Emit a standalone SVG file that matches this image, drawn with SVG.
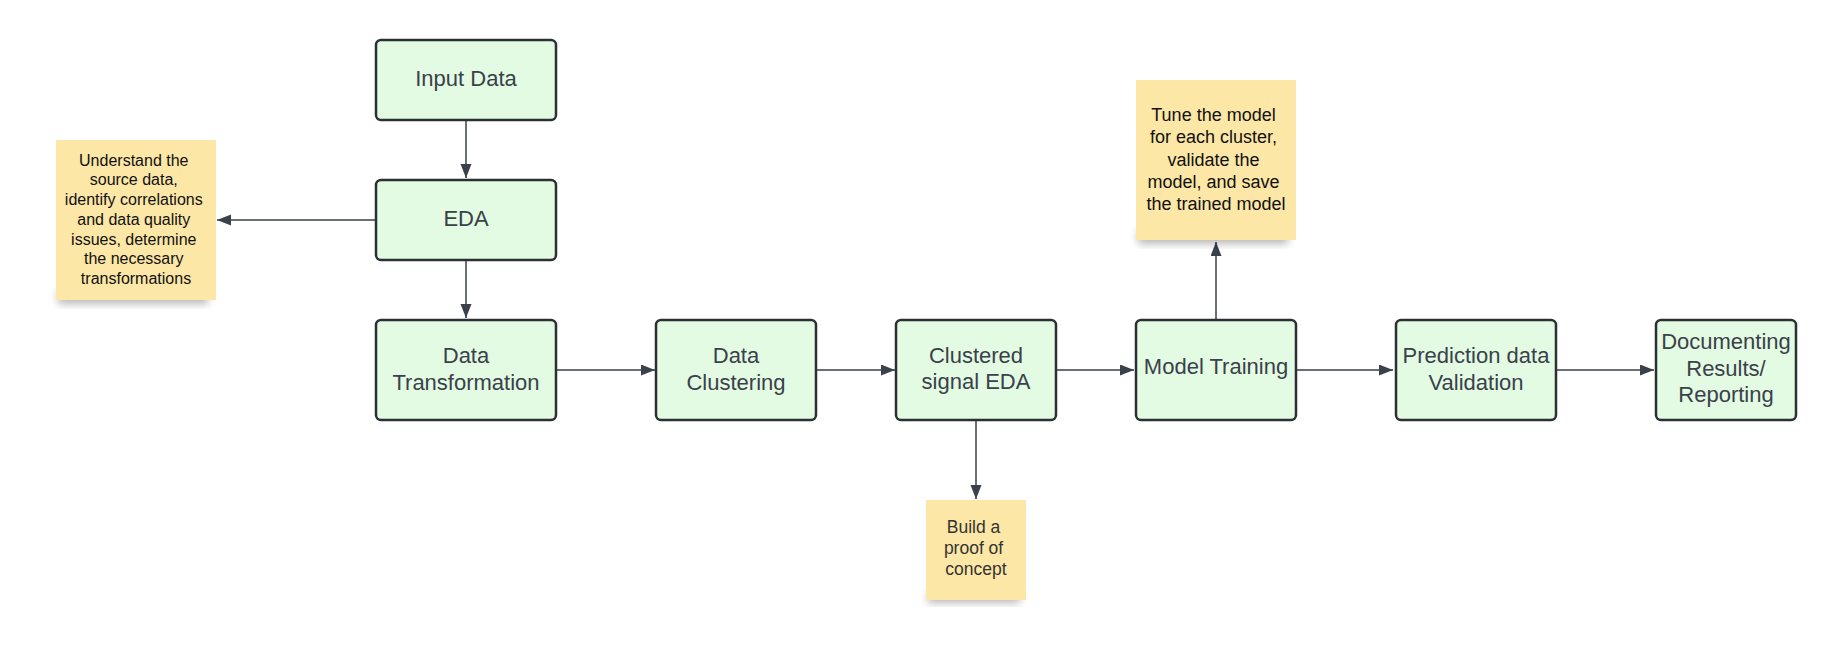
<svg xmlns="http://www.w3.org/2000/svg" width="1837" height="652" viewBox="0 0 1837 652">
  <defs>
    <marker id="arrow" markerUnits="userSpaceOnUse" markerWidth="15" markerHeight="12" refX="14" refY="5.5" orient="auto">
      <path d="M0,0 L14,5.5 L0,11 z" fill="#3a414a"/>
    </marker>
    <filter id="shadow" x="-20%" y="-20%" width="140%" height="150%">
      <feGaussianBlur stdDeviation="4"/>
    </filter>
    <style>
      .box { fill: #e3fae3; stroke: #2b3035; stroke-width: 2.5; }
      .btxt { font-family: "Liberation Sans", Arial, sans-serif; font-size: 22px; fill: #3a414a; text-anchor: middle; }
      .note { fill: #fce7a6; }
      .nshadow { fill: #000; opacity: 0.28; filter: url(#shadow); }
      .ntxt { font-family: "Liberation Sans", Arial, sans-serif; fill: #111; text-anchor: middle; }
      .conn { fill: none; stroke: #3a414a; stroke-width: 1.5; marker-end: url(#arrow); }
    </style>
  </defs>
  <rect width="1837" height="652" fill="#ffffff"/>

  <g id="connectors">
    <path class="conn" d="M466,120 V178"/>
    <path class="conn" d="M376,220 H217"/>
    <path class="conn" d="M466,260 V318"/>
    <path class="conn" d="M556,370 H655"/>
    <path class="conn" d="M816,370 H895"/>
    <path class="conn" d="M1056,370 H1134"/>
    <path class="conn" d="M1216,320 V242"/>
    <path class="conn" d="M1296,370 H1393"/>
    <path class="conn" d="M1556,370 H1654"/>
    <path class="conn" d="M976,420 V499"/>
  </g>

  <g id="note-eda">
    <rect class="nshadow" x="58" y="290" width="150" height="14"/>
    <rect class="note" x="56" y="140" width="160" height="160"/>
    <text class="ntxt" font-size="16" x="136">
      <tspan x="136" y="165.5">Understand the</tspan>
      <tspan x="136" y="185.2">source data,</tspan>
      <tspan x="136" y="205">identify correlations</tspan>
      <tspan x="136" y="224.7">and data quality</tspan>
      <tspan x="136" y="244.5">issues, determine</tspan>
      <tspan x="136" y="264.2">the necessary</tspan>
      <tspan x="136" y="284">transformations</tspan>
    </text>
  </g>

  <g id="note-training">
    <rect class="nshadow" x="1138" y="230" width="150" height="14"/>
    <rect class="note" x="1136" y="80" width="160" height="160"/>
    <text class="ntxt" font-size="18">
      <tspan x="1216" y="121">Tune the model</tspan>
      <tspan x="1216" y="143.2">for each cluster,</tspan>
      <tspan x="1216" y="165.5">validate the</tspan>
      <tspan x="1216" y="187.7">model, and save</tspan>
      <tspan x="1216" y="210">the trained model</tspan>
    </text>
  </g>

  <g id="note-poc">
    <rect class="nshadow" x="928" y="591" width="92" height="12"/>
    <rect class="note" x="926" y="500" width="100" height="100"/>
    <text class="ntxt" font-size="17.5" style="fill:#333">
      <tspan x="976" y="533">Build a</tspan>
      <tspan x="976" y="554">proof of</tspan>
      <tspan x="976" y="575">concept</tspan>
    </text>
  </g>

  <g id="input-data">
    <rect class="box" x="376" y="40" width="180" height="80" rx="5"/>
    <text class="btxt" x="466" y="86">Input Data</text>
  </g>

  <g id="eda">
    <rect class="box" x="376" y="180" width="180" height="80" rx="5"/>
    <text class="btxt" x="466" y="225.5">EDA</text>
  </g>

  <g id="data-transformation">
    <rect class="box" x="376" y="320" width="180" height="100" rx="5"/>
    <text class="btxt"><tspan x="466" y="363.3">Data</tspan><tspan x="466" y="390">Transformation</tspan></text>
  </g>

  <g id="data-clustering">
    <rect class="box" x="656" y="320" width="160" height="100" rx="5"/>
    <text class="btxt"><tspan x="736" y="363.3">Data</tspan><tspan x="736" y="390">Clustering</tspan></text>
  </g>

  <g id="clustered-signal-eda">
    <rect class="box" x="896" y="320" width="160" height="100" rx="5"/>
    <text class="btxt"><tspan x="976" y="362.5">Clustered</tspan><tspan x="976" y="389.2">signal EDA</tspan></text>
  </g>

  <g id="model-training">
    <rect class="box" x="1136" y="320" width="160" height="100" rx="5"/>
    <text class="btxt" x="1216" y="373.5">Model Training</text>
  </g>

  <g id="prediction-validation">
    <rect class="box" x="1396" y="320" width="160" height="100" rx="5"/>
    <text class="btxt"><tspan x="1476" y="363.3">Prediction data</tspan><tspan x="1476" y="390">Validation</tspan></text>
  </g>

  <g id="documenting">
    <rect class="box" x="1656" y="320" width="140" height="100" rx="5"/>
    <text class="btxt"><tspan x="1726" y="349">Documenting</tspan><tspan x="1726" y="375.5">Results/</tspan><tspan x="1726" y="402">Reporting</tspan></text>
  </g>
</svg>
